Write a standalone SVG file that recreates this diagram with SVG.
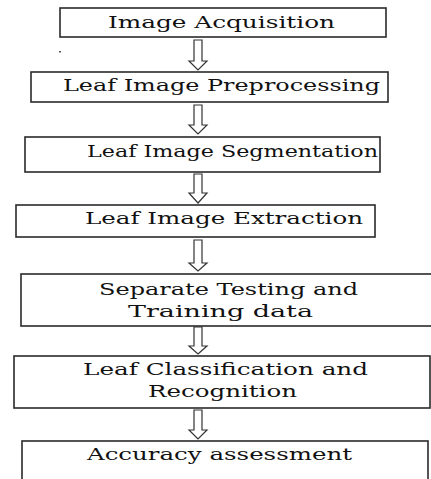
<svg xmlns="http://www.w3.org/2000/svg" width="431" height="479" viewBox="0 0 431 479">
<style>
.box{fill:#fff;stroke:#2a2a2a;stroke-width:1.6}
.arr{fill:#fff;stroke:#333;stroke-width:1.2;stroke-linejoin:miter}
text{font-family:"DejaVu Serif","Liberation Serif",serif;font-size:16px;fill:#111}
</style>
<rect width="431" height="479" fill="#fff"/>
<g id="connectors">
<polygon class="arr" points="194,40 202,40 202,61 207,61 198,70 189,61 194,61"/>
<polygon class="arr" points="194,105 202,105 202,125 207,125 198,134 189,125 194,125"/>
<polygon class="arr" points="194,174 202,174 202,193 207,193 198,203 189,193 194,193"/>
<polygon class="arr" points="194,240 202,240 202,263 207,263 198,271 189,263 194,263"/>
<polygon class="arr" points="194,327 202,327 202,346 207,346 198,354 189,346 194,346"/>
<polygon class="arr" points="194,410 202,410 202,430 207,430 198,439 189,430 194,430"/>
</g>
<rect x="59" y="51" width="2" height="1.5" fill="#555"/>
<g id="n1"><rect class="box" x="60" y="8" width="326" height="29"/><text x="108" y="28" textLength="227" lengthAdjust="spacingAndGlyphs">Image Acquisition</text></g>
<g id="n2"><rect class="box" x="31" y="72" width="357" height="30"/><text x="63" y="91" textLength="317" lengthAdjust="spacingAndGlyphs">Leaf Image Preprocessing</text></g>
<g id="n3"><rect class="box" x="25" y="137" width="355" height="35"/><text x="87" y="157" textLength="291" lengthAdjust="spacingAndGlyphs">Leaf Image Segmentation</text></g>
<g id="n4"><rect class="box" x="16" y="205" width="359" height="32"/><text x="85" y="224" textLength="278" lengthAdjust="spacingAndGlyphs">Leaf Image Extraction</text></g>
<g id="n5"><rect class="box" x="21" y="274" width="415" height="52"/><text x="99" y="295" textLength="259" lengthAdjust="spacingAndGlyphs">Separate Testing and</text><text x="128" y="317" textLength="185" lengthAdjust="spacingAndGlyphs">Training data</text></g>
<g id="n6"><rect class="box" x="14" y="356" width="416" height="52"/><text x="83" y="375" textLength="285" lengthAdjust="spacingAndGlyphs">Leaf Classification and</text><text x="148" y="397" textLength="149" lengthAdjust="spacingAndGlyphs">Recognition</text></g>
<g id="n7"><rect class="box" x="22" y="441" width="406" height="50"/><text x="87" y="460" textLength="265" lengthAdjust="spacingAndGlyphs">Accuracy assessment</text></g>
</svg>
